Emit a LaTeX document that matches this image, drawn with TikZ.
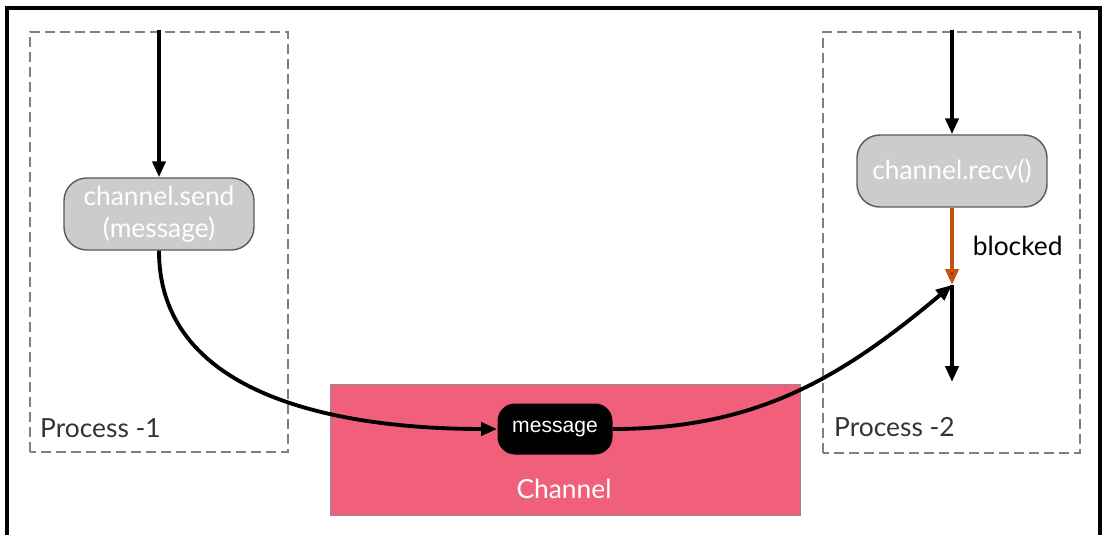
\documentclass[tikz,border=0pt]{standalone}
\usepackage{fontspec}
\setmainfont{Lato}
\setsansfont{Liberation Sans}
\usetikzlibrary{arrows.meta,positioning,calc}
\definecolor{chanred}{RGB}{240,96,122}
\definecolor{blockorange}{RGB}{196,82,16}
\definecolor{callgray}{RGB}{204,204,204}

\begin{document}
\begin{tikzpicture}[font=\fontsize{15}{18}\selectfont,
  call/.style={rounded corners=13pt, fill=callgray, draw=black!65, thick, text=white, minimum width=38mm, minimum height=14.4mm, align=center},
  procbox/.style={draw=black!50, dash pattern=on 2mm off 1mm, line width=0.9pt},
  flow/.style={-{Triangle[length=3.2mm,width=2.6mm]}, line width=2.2pt}]
  \useasboundingbox (0,0) rectangle (22.04,10.7);
  % outer frame
  \draw [line width=2pt] (0.14,0) -- (0.14,10.54) -- (22.0,10.54) -- (22.0,0);

  % process boxes
  \draw [procbox] (0.6,1.66) rectangle (5.76,10.06);
  \draw [procbox] (16.46,1.64) rectangle (21.6,10.06);
  \node (P1) [anchor=west, text=black!80] at (0.68,2.14) {Process -1};
  \node (P2) [anchor=west, text=black!80] at (16.56,2.16) {Process -2};

  % channel
  \draw [fill=chanred, draw=black!45] (6.6,0.4) rectangle (16.0,3.02);
  \node (chan) [text=white] at (11.28,0.92) {Channel};
  \node (msg) [fill=black, rounded corners=10pt, text=white, minimum width=23mm, minimum height=10.2mm, font=\sffamily\fontsize{12}{14}\selectfont] at (11.1,2.12) {message};

  \node (send) [call] at (3.18,6.42) {channel.send\\(message)};
  \node (recv) [call] at (19.04,7.28) {channel.recv()};

  \coordinate (in1) at (3.18,10.1);
  \coordinate (in2) at (19.04,10.1);
  \coordinate (wake) at (19.04,5.0);
  \coordinate (out2) at (19.04,3.06);

  \path [flow]
  (in1) edge [flow] (send)
  (in2) edge [flow] (recv)
  (wake) edge [flow] (out2)
  (send.south) edge [flow, out=-90, in=180] (msg.west)
  (msg.east) edge [flow, out=0, in=220] (wake);
  \path [flow, draw=blockorange]
  (recv) edge [flow] node [right=0.26cm, text=black]{blocked} (wake);
\end{tikzpicture}
\end{document}
